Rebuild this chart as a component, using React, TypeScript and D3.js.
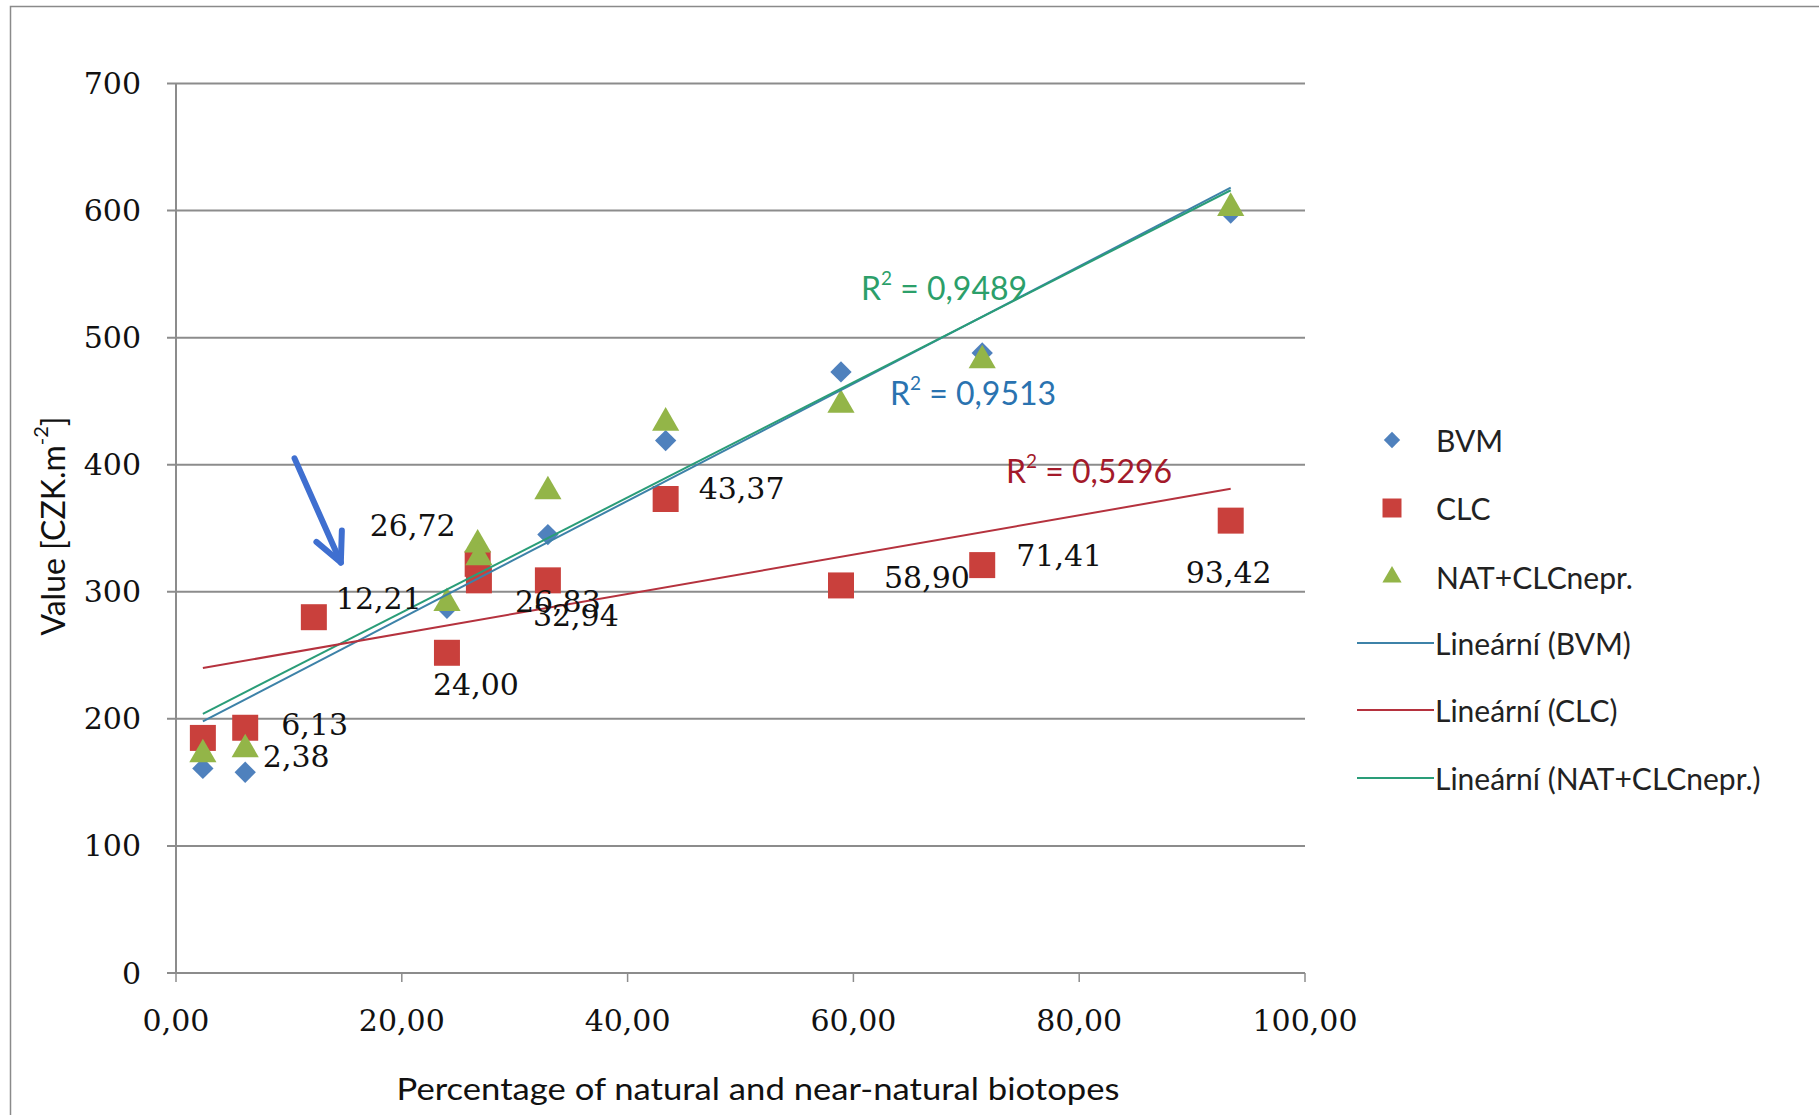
import React from "react";
import * as d3 from "d3";

// ---- data ----
const xValues = [2.38, 6.13, 12.21, 24.0, 26.72, 26.83, 32.94, 43.37, 58.9, 71.41, 93.42];
const bvmValues: (number | null)[] = [161, 158, null, 287, 323, 316, 345, 419, 473, 488, 598];
const clcValues: (number | null)[] = [185, 193, 280, 252, 322, 309, 309, 373, 305, 321, 356];
const natValues: (number | null)[] = [172, 176, null, 291, 337, 327, 379, 433, 447, 482, 602];

const seriesNames = ["BVM", "CLC", "NAT+CLCnepr."];
const trendNames = ["Lineární (BVM)", "Lineární (CLC)", "Lineární (NAT+CLCnepr.)"];

// trendline endpoints (value at first and last x)
const trendX = [2.38, 93.42];
const trendBVM = [198, 618];
const trendCLC = [240, 381];
const trendNAT = [204, 616];

const r2Texts = ["0,9513", "0,5296", "0,9489"];

const yTicks = [0, 100, 200, 300, 400, 500, 600, 700];
const xTicks = [0, 20, 40, 60, 80, 100];

// arrow annotation (data units): tail -> tip
const arrowData = [
  [10.5, 405],
  [14.6, 323],
];

// ---- layout / style ----
const W = 1819;
const H = 1115;
const colors = { bvm: "#4F81BD", clc: "#C9403C", nat: "#93B548" };
const trendColors = { bvm: "#3d82a8", clc: "#b5323e", nat: "#2a9d78" };
const r2Colors = { bvm: "#2a73b0", clc: "#a3192a", nat: "#2c9f6a" };
const serif = "'DejaVu Serif', 'Liberation Serif', serif";
const sans = "Lato, 'Open Sans', sans-serif";

// label offsets relative to CLC point [dx, dy, anchor]
const labelOffsets: [number, number, string][] = [
  [60, 19, "start"],
  [36, -3, "start"],
  [22, -19, "start"],
  [-14, 32, "start"],
  [-22, -38, "end"],
  [36, 21, "start"],
  [-15, 35, "start"],
  [33, -11, "start"],
  [43, -8, "start"],
  [34, -10, "start"],
  [-45, 52, "start"],
];

const x = d3.scaleLinear().domain([0, 100]).range([176, 1305]);
const y = d3.scaleLinear().domain([0, 700]).range([973, 83.5]);

const fmt = (v: number) => d3.format(".2f")(v).replace(".", ",");

const diamondPath = d3.symbol(d3.symbolDiamond2, 290)() as string;
const squarePath = d3.symbol(d3.symbolSquare, 26 * 26)() as string;
const trianglePath = d3.symbol(d3.symbolTriangle, 320)() as string;
const diamondLeg = d3.symbol(d3.symbolDiamond2, 170)() as string;
const squareLeg = d3.symbol(d3.symbolSquare, 19 * 19)() as string;
const triangleLeg = d3.symbol(d3.symbolTriangle, 160)() as string;

const line = d3
  .line<[number, number]>()
  .x((d) => x(d[0]))
  .y((d) => y(d[1]));

function Markers({ values, path, color }: { values: (number | null)[]; path: string; color: string }) {
  return (
    <g>
      {values.map((v, i) =>
        v == null ? null : (
          <path key={i} d={path} transform={`translate(${x(xValues[i])},${y(v)})`} fill={color} />
        )
      )}
    </g>
  );
}

function R2({ xPos, yPos, value, color }: { xPos: number; yPos: number; value: string; color: string }) {
  return (
    <text x={xPos} y={yPos} fill={color} fontFamily={sans} fontSize={32} dominantBaseline="middle">
      R
      <tspan fontSize={19} dy={-12}>
        2
      </tspan>
      <tspan dy={12}> = {value}</tspan>
    </text>
  );
}

export default function App() {
  const trends: [number[], string][] = [
    [trendBVM, trendColors.bvm],
    [trendNAT, trendColors.nat],
    [trendCLC, trendColors.clc],
  ];
  const legendY = [440, 508, 577, 643, 710, 778];
  const tip = arrowData[1];
  const tail = arrowData[0];
  const tx = x(tip[0]);
  const ty = y(tip[1]);
  const ang = Math.atan2(ty - y(tail[1]), tx - x(tail[0]));
  const wing = 32;
  const spread = 0.45;
  const w1 = [tx - wing * Math.cos(ang - spread), ty - wing * Math.sin(ang - spread)];
  const w2 = [tx - wing * Math.cos(ang + spread), ty - wing * Math.sin(ang + spread)];

  return (
    <svg
      width={W}
      height={H}
      style={{ position: "absolute", left: 0, top: 0, background: "#fff" }}
    >
      <rect x={0} y={0} width={W} height={H} fill="#fff" />
      <rect x={10.5} y={6.5} width={W + 50} height={H + 50} fill="none" stroke="#8a8a8a" strokeWidth={1.5} />

      {/* gridlines */}
      {yTicks.map((t) => (
        <line key={t} x1={167} x2={x(100)} y1={y(t)} y2={y(t)} stroke="#8c8c8c" strokeWidth={2} />
      ))}
      {/* y axis */}
      <line x1={x(0)} x2={x(0)} y1={y(700)} y2={y(0)} stroke="#8c8c8c" strokeWidth={2} />
      {/* x ticks */}
      {xTicks.map((t) => (
        <line key={t} x1={x(t)} x2={x(t)} y1={y(0)} y2={y(0) + 9} stroke="#8c8c8c" strokeWidth={1.5} />
      ))}

      {/* y tick labels */}
      {yTicks.map((t) => (
        <text
          key={t}
          x={141}
          y={y(t)}
          textAnchor="end"
          dominantBaseline="central"
          fontFamily={serif}
          fontSize={30}
          fill="#111"
        >
          {t}
        </text>
      ))}
      {/* x tick labels */}
      {xTicks.map((t) => (
        <text
          key={t}
          x={x(t)}
          y={1020}
          textAnchor="middle"
          dominantBaseline="central"
          fontFamily={serif}
          fontSize={30}
          fill="#111"
        >
          {fmt(t)}
        </text>
      ))}

      {/* axis titles */}
      <text
        x={758}
        y={1088}
        textAnchor="middle"
        dominantBaseline="central"
        fontFamily={sans}
        fontSize={30}
        fill="#111"
        textLength={723}
        lengthAdjust="spacingAndGlyphs"
      >
        Percentage of natural and near-natural biotopes
      </text>
      <text
        transform="translate(52,526) rotate(-90)"
        textAnchor="middle"
        dominantBaseline="central"
        fontFamily={sans}
        fontSize={32}
        fill="#111"
      >
        Value [CZK.m
        <tspan fontSize={20} dy={-12}>
          -2
        </tspan>
        <tspan dy={12}>]</tspan>
      </text>

      {/* markers */}
      <Markers values={bvmValues} path={diamondPath} color={colors.bvm} />
      <Markers values={clcValues} path={squarePath} color={colors.clc} />
      <Markers values={natValues} path={trianglePath} color={colors.nat} />

      {/* trendlines */}
      {trends.map(([vals, c], i) => (
        <path
          key={i}
          d={line([
            [trendX[0], vals[0]],
            [trendX[1], vals[1]],
          ]) as string}
          stroke={c}
          strokeWidth={2}
          fill="none"
        />
      ))}

      {/* R2 labels */}
      <R2 xPos={861} yPos={292} value={r2Texts[2]} color={r2Colors.nat} />
      <R2 xPos={890} yPos={397} value={r2Texts[0]} color={r2Colors.bvm} />
      <R2 xPos={1006} yPos={475} value={r2Texts[1]} color={r2Colors.clc} />

      {/* data labels */}
      {xValues.map((xv, i) => {
        const cv = clcValues[i] as number;
        const [dx, dy, anchor] = labelOffsets[i];
        return (
          <text
            key={i}
            x={x(xv) + dx}
            y={y(cv) + dy}
            textAnchor={anchor as any}
            dominantBaseline="central"
            fontFamily={serif}
            fontSize={30}
            fill="#111"
          >
            {fmt(xv)}
          </text>
        );
      })}

      {/* arrow annotation */}
      <g stroke="#3f6fd0" strokeWidth={6} strokeLinecap="round" fill="none">
        <line x1={x(tail[0])} y1={y(tail[1])} x2={tx} y2={ty} />
        <polyline points={`${w1[0]},${w1[1]} ${tx},${ty} ${w2[0]},${w2[1]}`} strokeLinejoin="round" />
      </g>

      {/* legend */}
      <g fontFamily={sans} fontSize={30} fill="#222">
        <path d={diamondLeg} transform={`translate(1392,${legendY[0]})`} fill={colors.bvm} />
        <path d={squareLeg} transform={`translate(1392,${legendY[1]})`} fill={colors.clc} />
        <path d={triangleLeg} transform={`translate(1392,${legendY[2]})`} fill={colors.nat} />
        {[trendColors.bvm, trendColors.clc, trendColors.nat].map((c, i) => (
          <line key={i} x1={1357} x2={1434} y1={legendY[3 + i]} y2={legendY[3 + i]} stroke={c} strokeWidth={2} />
        ))}
        {seriesNames.map((n, i) => (
          <text key={n} x={1436} y={legendY[i]} dominantBaseline="central">
            {n}
          </text>
        ))}
        {trendNames.map((n, i) => (
          <text key={n} x={1435} y={legendY[3 + i]} dominantBaseline="central">
            {n}
          </text>
        ))}
      </g>
    </svg>
  );
}
